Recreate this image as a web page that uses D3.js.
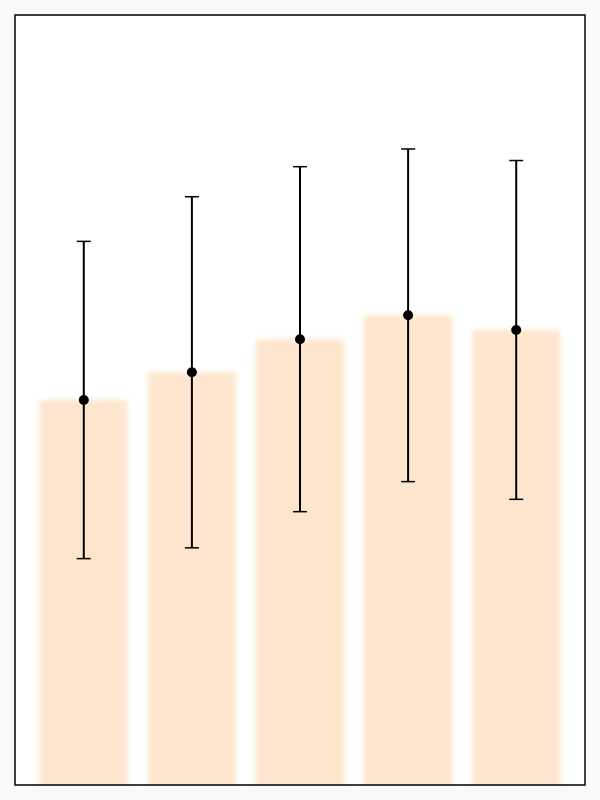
<!DOCTYPE html>
<html>
<head>
<meta charset="utf-8">
<script src="https://cdn.jsdelivr.net/npm/d3@7"></script>
<style>
  body { margin: 0; background: #fafafa; }
  svg { display: block; }
</style>
</head>
<body>
<svg id="canvas"></svg>
<script>
let groups = ["A", "B", "C", "D", "E"]
let means = [50.0, 53.6, 57.9, 61.0, 59.1]
let errors = [20.6, 22.8, 22.4, 21.6, 22.0]

let width = 600
let height = 800
let padding = 15

let svg = d3.select("#canvas")
svg.attr("width", width)
svg.attr("height", height)

let defs = svg.append("defs")
defs.append("filter")
    .attr("id", "blur")
    .attr("x", "-20%").attr("y", "-5%")
    .attr("width", "140%").attr("height", "110%")
    .append("feGaussianBlur")
    .attr("stdDeviation", 2.5)

defs.append("clipPath")
    .attr("id", "plot-clip")
    .append("rect")
    .attr("x", padding).attr("y", padding)
    .attr("width", width - 2 * padding)
    .attr("height", height - 2 * padding)

svg.append("rect")
    .attr("x", padding).attr("y", padding)
    .attr("width", width - 2 * padding)
    .attr("height", height - 2 * padding)
    .attr("fill", "white")

let data = groups.map((g, i) => ({ group: g, mean: means[i], err: errors[i] }))

let xScale = d3.scaleBand()
    .domain(groups)
    .range([30, 570])
    .paddingInner(0.185)
    .paddingOuter(0.09)

let yScale = d3.scaleLinear()
    .domain([0, 100])
    .range([height - padding, padding])

svg.append("g")
    .attr("clip-path", "url(#plot-clip)")
    .selectAll("rect")
    .data(data)
    .enter()
    .append("rect")
    .attr("x", d => xScale(d.group))
    .attr("y", d => yScale(d.mean))
    .attr("width", xScale.bandwidth())
    .attr("height", d => yScale(0) - yScale(d.mean) + 10)
    .attr("fill", "#fee6ce")
    .attr("filter", "url(#blur)")

let cx = d => xScale(d.group) + xScale.bandwidth() / 2
let cap = 7

let errs = svg.append("g")
    .selectAll("g")
    .data(data)
    .enter()
    .append("g")
    .attr("stroke", "black")
    .attr("stroke-width", 2)

errs.append("line")
    .attr("x1", cx).attr("x2", cx)
    .attr("y1", d => yScale(d.mean + d.err))
    .attr("y2", d => yScale(d.mean - d.err))

errs.append("line")
    .attr("x1", d => cx(d) - cap).attr("x2", d => cx(d) + cap)
    .attr("y1", d => yScale(d.mean + d.err))
    .attr("y2", d => yScale(d.mean + d.err))
    .attr("stroke-width", 1.5)

errs.append("line")
    .attr("x1", d => cx(d) - cap).attr("x2", d => cx(d) + cap)
    .attr("y1", d => yScale(d.mean - d.err))
    .attr("y2", d => yScale(d.mean - d.err))
    .attr("stroke-width", 1.5)

svg.append("g")
    .selectAll("circle")
    .data(data)
    .enter()
    .append("circle")
    .attr("cx", cx)
    .attr("cy", d => yScale(d.mean))
    .attr("r", 5)
    .attr("fill", "black")

svg.append("rect")
    .attr("x", padding).attr("y", padding)
    .attr("width", width - 2 * padding)
    .attr("height", height - 2 * padding)
    .attr("fill", "none")
    .attr("stroke", "black")
    .attr("stroke-width", 1.5)
</script>
</body>
</html>
